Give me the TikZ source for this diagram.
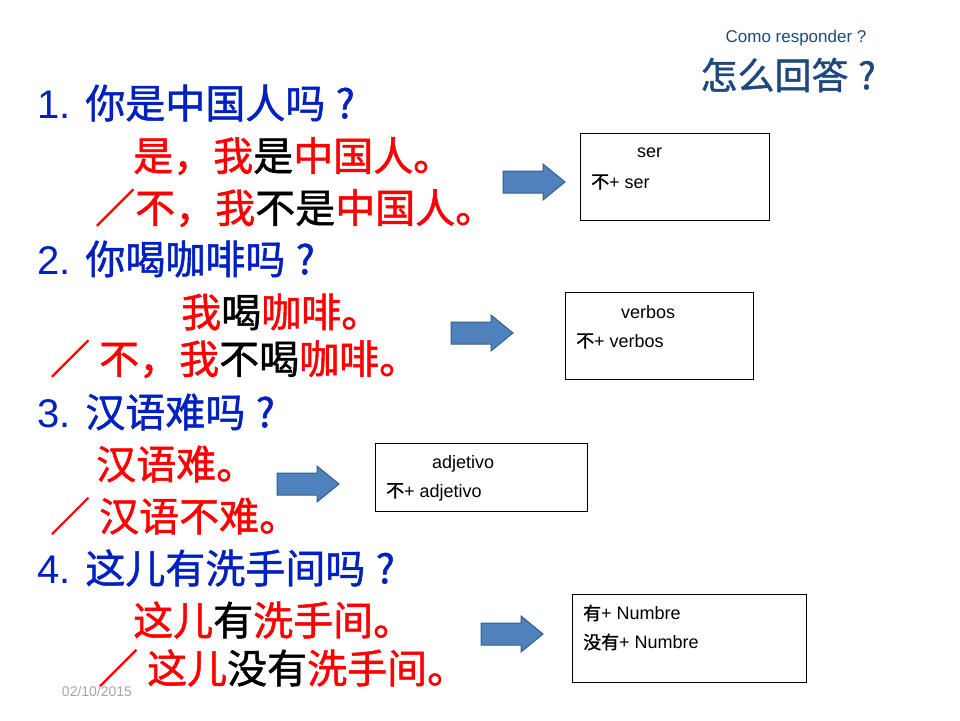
\documentclass[tikz,border=0pt]{standalone}
\usepackage{fontspec}
\setmainfont{Liberation Sans}
\newfontfamily\cjk{Noto Sans CJK SC}[FakeBold=1.2]
\definecolor{qblue}{RGB}{0,32,192}
\definecolor{tblue}{RGB}{31,73,125}
\definecolor{afill}{RGB}{79,129,189}
\definecolor{aline}{RGB}{56,93,138}
\newcommand{\R}[1]{\textcolor{red}{#1}}
\newcommand{\Q}{\makebox[1em][c]{?}}
\newcommand{\blockarrow}[2]{\draw[barrow] (#1,#2) ++(-31,-11) -- ++(40,0) -- ++(0,-7) -- ++(22,18) -- ++(-22,18) -- ++(0,-7) -- ++(-40,0) -- cycle;}
\begin{document}
\begin{tikzpicture}[x=1pt,y=-1pt,
  line/.style={anchor=west,inner sep=0pt,font=\cjk\fontsize{40}{40}\selectfont},
  qline/.style={line,text=qblue},
  box/.style={draw,line width=0.8pt},
  btext/.style={anchor=west,inner sep=0pt,font=\fontsize{18}{18}\selectfont},
  barrow/.style={draw=aline,fill=afill,line width=1pt,line join=miter}]
\useasboundingbox (0,0) rectangle (960,720);
\fill[white] (0,0) rectangle (960,720);
\node[anchor=center,text=tblue,font=\fontsize{17}{17}\selectfont] (t1) at (796,38) {Como responder ?};
\node[anchor=center,text=tblue,font=\cjk\fontsize{37}{37}\selectfont] (t2) at (793,75) {怎么回答\Q};
\node[qline] (l1) at (37,103) {{\fontspec{Liberation Sans}1. }你是中国人吗\Q};
\node[line] (l2) at (133,156) {\R{是，我}是\R{中国人。}};
\node[line] (l3) at (95,208) {\R{／不，我}不是\R{中国人。}};
\node[qline] (l4) at (37,259) {{\fontspec{Liberation Sans}2. }你喝咖啡吗\Q};
\node[line] (l5) at (181,312) {\R{我}喝\R{咖啡。}};
\node[line] (l6) at (50,359) {\R{／ 不，我}不喝\R{咖啡。}};
\node[qline] (l7) at (37,412) {{\fontspec{Liberation Sans}3. }汉语难吗\Q};
\node[line] (l8) at (96,464) {\R{汉语难。}};
\node[line] (l9) at (50,516) {\R{／ 汉语不难。}};
\node[qline] (l10) at (37,568) {{\fontspec{Liberation Sans}4. }这儿有洗手间吗\Q};
\node[line] (l11) at (133,620) {\R{这儿}有\R{洗手间。}};
\node[line] (l12) at (98,668) {\R{／ 这儿}没有\R{洗手间。}};
\node[anchor=center,text=gray!70,font=\fontsize{14}{14}\selectfont] (d) at (97,691) {02/10/2015};
% boxes
\draw[box] (580,133) rectangle (769,220);
\node[btext] (b1a) at (637,153) {ser};
\node[btext] (b1b) at (591,182) {{\cjk 不}+ ser};
\draw[box] (565,292) rectangle (753,379);
\node[btext] (b2a) at (621,312) {verbos};
\node[btext] (b2b) at (576,341) {{\cjk 不}+ verbos};
\draw[box] (375,443) rectangle (587,511);
\node[btext] (b3a) at (432,464) {adjetivo};
\node[btext] (b3b) at (386,492) {{\cjk 不}+ adjetivo};
\draw[box] (572,594) rectangle (806,682);
\node[btext] (b4a) at (583,613) {{\cjk 有}+ Numbre};
\node[btext] (b4b) at (583,642) {{\cjk 没有}+ Numbre};
% arrows
\blockarrow{534}{182}
\blockarrow{482}{333}
\blockarrow{308}{484}
\blockarrow{512}{634}
\end{tikzpicture}
\end{document}
